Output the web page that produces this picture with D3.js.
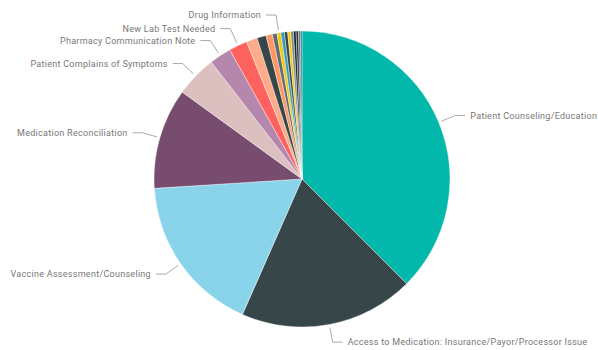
<!DOCTYPE html>
<html>
<head>
<meta charset="utf-8">
<script src="https://cdn.jsdelivr.net/npm/d3@7"></script>
<style>
  html, body { margin: 0; padding: 0; background: #fff; }
  svg { display: block; }
  .lbl { font-family: Roboto, "DejaVu Sans", sans-serif; font-size: 9px; fill: #777; letter-spacing: 0.28px; }
</style>
</head>
<body>
<svg id="chart" width="598" height="350"></svg>
<script>
// Categories (sorted by value, clockwise from 12 o'clock)
const categories = [
  "Patient Counseling/Education",
  "Access to Medication: Insurance/Payor/Processor Issue",
  "Vaccine Assessment/Counseling",
  "Medication Reconciliation",
  "Patient Complains of Symptoms",
  "Pharmacy Communication Note",
  "New Lab Test Needed",
  "Category 8",
  "Category 9",
  "Category 10",
  "Category 11",
  "Drug Information",
  "Category 13",
  "Category 14",
  "Category 15",
  "Category 16",
  "Category 17",
  "Category 18",
  "Category 19",
  "Category 20"
];
// Share of total (%)
const values = [37.5, 19.1, 17.4, 11.0, 4.5, 2.4, 2.0, 1.2, 1.0, 0.7, 0.5, 0.42, 0.38, 0.36, 0.33, 0.3, 0.28, 0.26, 0.2, 0.18];
const colors = ["#01B8AA", "#374649", "#8AD4EB", "#774C6E", "#DCC0C0", "#B687AC", "#FD625E", "#FDAB89",
                "#374649", "#FE9666", "#5F6B6D", "#F2C80F", "#3599B8", "#374649", "#F2C80F", "#7F898A",
                "#0D262E", "#293537", "#5F6B6D", "#28738A"];
// Which categories carry a visible data label
const labelled = [
  "Patient Counseling/Education",
  "Access to Medication: Insurance/Payor/Processor Issue",
  "Vaccine Assessment/Counseling",
  "Medication Reconciliation",
  "Patient Complains of Symptoms",
  "Pharmacy Communication Note",
  "New Lab Test Needed",
  "Drug Information"
];

const W = 598, H = 350;
const cx = 302, cy = 179, R = 148;
const svg = d3.select("#chart");
const g = svg.append("g").attr("transform", `translate(${cx},${cy})`);

const data = categories.map((c, i) => ({ name: c, value: values[i], color: colors[i] }));
const pie = d3.pie().value(d => d.value).sort(null);
const arcs = pie(data);
const arc = d3.arc().innerRadius(0).outerRadius(R);

g.selectAll("path.slice").data(arcs).enter().append("path")
  .attr("class", "slice")
  .attr("d", arc)
  .attr("fill", d => d.data.color)
  .attr("stroke", "#fff")
  .attr("stroke-width", 0.4);

// Label layout
const startArc = d3.arc().innerRadius(R + 3).outerRadius(R + 3);
const bendArc = d3.arc().innerRadius(R + 18).outerRadius(R + 18);
const items = arcs.filter(a => labelled.includes(a.data.name)).map(a => {
  const s = startArc.centroid(a);
  const b = bendArc.centroid(a);
  const mid = (a.startAngle + a.endAngle) / 2;
  return { a, s, b, right: mid < Math.PI, y: b[1] };
});
// resolve vertical overlaps on each side
const minGap = 12;
["left", "right"].forEach(side => {
  const list = items.filter(it => (side === "right") === it.right).sort((p, q) => p.y - q.y);
  for (let k = 1; k < list.length; k++) {
    if (list[k].y - list[k - 1].y < minGap) list[k - 1].y = list[k].y - minGap;
  }
  for (let k = list.length - 2; k >= 0; k--) {
    if (list[k + 1].y - list[k].y < minGap) list[k].y = list[k + 1].y - minGap;
  }
});

const lab = g.selectAll("g.lab").data(items).enter().append("g").attr("class", "lab");
lab.append("polyline")
  .attr("points", d => {
    const dir = d.right ? 1 : -1;
    return [[d.s[0], d.s[1]], [d.b[0], d.y], [d.b[0] + dir * 10, d.y]].map(p => p.join(",")).join(" ");
  })
  .attr("fill", "none")
  .attr("stroke", "#aaa")
  .attr("stroke-width", 1);
lab.append("text")
  .attr("class", "lbl")
  .attr("x", d => d.b[0] + (d.right ? 15 : -15))
  .attr("y", d => d.y)
  .attr("dy", "0.35em")
  .attr("text-anchor", d => d.right ? "start" : "end")
  .text(d => d.a.data.name);
</script>
</body>
</html>
